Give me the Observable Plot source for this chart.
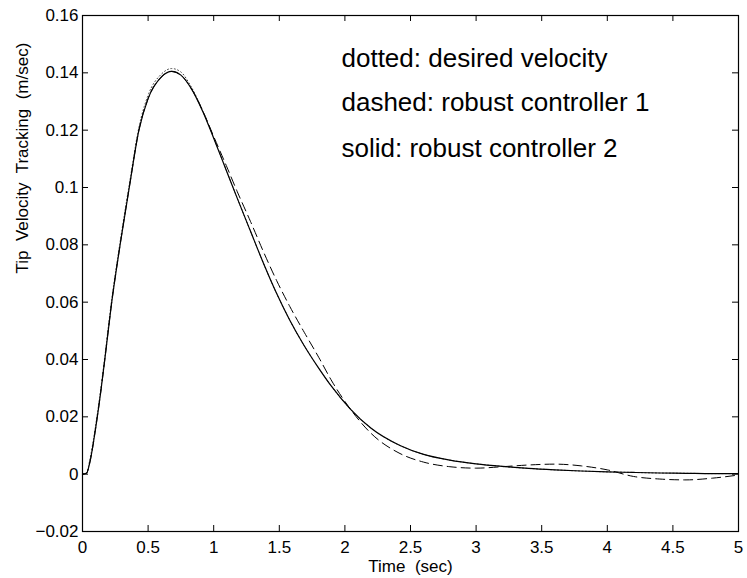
<!DOCTYPE html>
<html>
<head>
<meta charset="utf-8">
<script src="https://cdn.jsdelivr.net/npm/d3@7"></script>
<script src="https://cdn.jsdelivr.net/npm/@observablehq/plot@0.6"></script>
<style>
  html, body { margin: 0; padding: 0; background: white; }
</style>
</head>
<body>
<div id="chart"></div>
<script>
// Time samples (sec)
const T = [0, 0.03, 0.06, 0.1, 0.14, 0.17, 0.22, 0.29, 0.36, 0.43, 0.5, 0.6, 0.68, 0.75, 0.82, 0.92, 1.0, 1.1, 1.18, 1.28, 1.38, 1.48, 1.58, 1.69, 1.8, 1.9, 2.04, 2.2, 2.42, 2.6, 2.8, 3.0, 3.2, 3.4, 3.6, 3.8, 4.0, 4.2, 4.4, 4.6, 4.8, 5.0];

// dotted: desired velocity
const desired = [0, 0.0005, 0.006, 0.017, 0.030, 0.041, 0.060, 0.082, 0.102, 0.121, 0.1322, 0.1395, 0.1415, 0.1403, 0.1358, 0.1264, 0.1173, 0.1056, 0.0962, 0.0848, 0.0735, 0.063, 0.0537, 0.0448, 0.037, 0.0305, 0.0228, 0.016, 0.0100, 0.0069, 0.0049, 0.0036, 0.0027, 0.002, 0.0015, 0.0011, 0.0008, 0.0006, 0.0004, 0.0003, 0.0002, 0.0002];

// dashed: robust controller 1
const ctrl1 = [0, 0.0003, 0.005, 0.016, 0.029, 0.040, 0.059, 0.081, 0.101, 0.120, 0.131, 0.1385, 0.1405, 0.1392, 0.1352, 0.1264, 0.1178, 0.1072, 0.0985, 0.0882, 0.0775, 0.0675, 0.0585, 0.0495, 0.0408, 0.0325, 0.0228, 0.0142, 0.0072, 0.0042, 0.0026, 0.0021, 0.0026, 0.0032, 0.0035, 0.0029, 0.0015, -0.0008, -0.0017, -0.002, -0.0014, -0.0003];

// solid: robust controller 2
const ctrl2 = [0, 0.0003, 0.005, 0.016, 0.029, 0.040, 0.059, 0.081, 0.101, 0.120, 0.131, 0.1385, 0.1405, 0.1392, 0.1352, 0.1262, 0.1172, 0.1055, 0.0962, 0.0848, 0.0735, 0.063, 0.0537, 0.0448, 0.037, 0.0305, 0.0228, 0.016, 0.0100, 0.0069, 0.0049, 0.0036, 0.0027, 0.002, 0.0015, 0.0011, 0.0008, 0.0006, 0.0004, 0.0003, 0.0002, 0.0002];

const xTicks = [0, 0.5, 1, 1.5, 2, 2.5, 3, 3.5, 4, 4.5, 5];
const yTicks = [-0.02, 0, 0.02, 0.04, 0.06, 0.08, 0.1, 0.12, 0.14, 0.16];

const legendLines = ["dotted: desired velocity", "dashed: robust controller 1", "solid: robust controller 2"];
const legendX = 1.974;
const legendY = [0.1421, 0.1268, 0.1106];

const xLabel = "Time\u00a0 (sec)";
const yLabel = "Tip\u00a0 Velocity\u00a0 Tracking\u00a0 (m/sec)";

const fmt = d => { const s = String(+d.toFixed(2)); return s.replace("-", "\u2212"); };

const series = (vals) => T.map((t, i) => ({t, v: vals[i]}));

const W = 747, H = 578, ML = 82, MR = 9, MT = 15, MB = 47;
const innerW = W - ML - MR, innerH = H - MT - MB, tick = 6;

const chart = Plot.plot({
  width: W,
  height: H,
  marginLeft: ML,
  marginRight: MR,
  marginTop: MT,
  marginBottom: MB,
  style: {fontFamily: "'Liberation Sans', Arial, Helvetica, sans-serif", fontSize: "17px", background: "white", color: "black"},
  x: {domain: [0, 5], label: null},
  y: {domain: [-0.02, 0.16], label: null},
  marks: [
    Plot.line(series(desired), {x: "t", y: "v", stroke: "#444", strokeWidth: 1, strokeDasharray: "1,2.5", curve: "monotone-x"}),
    Plot.line(series(ctrl1), {x: "t", y: "v", stroke: "black", strokeWidth: 1, strokeDasharray: "9,5", curve: "monotone-x"}),
    Plot.line(series(ctrl2), {x: "t", y: "v", stroke: "black", strokeWidth: 1.2, curve: "monotone-x"}),
    Plot.frame({stroke: "black", strokeWidth: 1.2}),
    Plot.tickX(xTicks, {x: d => d, insetTop: innerH - tick, stroke: "black"}),
    Plot.tickX(xTicks, {x: d => d, insetBottom: innerH - tick, stroke: "black"}),
    Plot.tickY(yTicks, {y: d => d, insetRight: innerW - tick, stroke: "black"}),
    Plot.tickY(yTicks, {y: d => d, insetLeft: innerW - tick, stroke: "black"}),
    Plot.axisX(xTicks, {tickSize: 0, tickPadding: 9, tickFormat: fmt, fontSize: 17, label: null}),
    Plot.axisY(yTicks, {tickSize: 0, tickPadding: 4, tickFormat: fmt, fontSize: 17, label: null}),
    Plot.text([xLabel], {frameAnchor: "bottom", dy: 40, lineAnchor: "bottom", fontSize: 17, text: d => d}),
    Plot.text([yLabel], {frameAnchor: "left", rotate: -90, dx: -54.7, lineAnchor: "bottom", fontSize: 17, text: d => d}),
    Plot.text(legendLines, {x: () => legendX, y: (d, i) => legendY[i], text: d => d, textAnchor: "start", lineAnchor: "bottom", fontSize: 26})
  ]
});
document.getElementById("chart").appendChild(chart);
</script>
</body>
</html>
